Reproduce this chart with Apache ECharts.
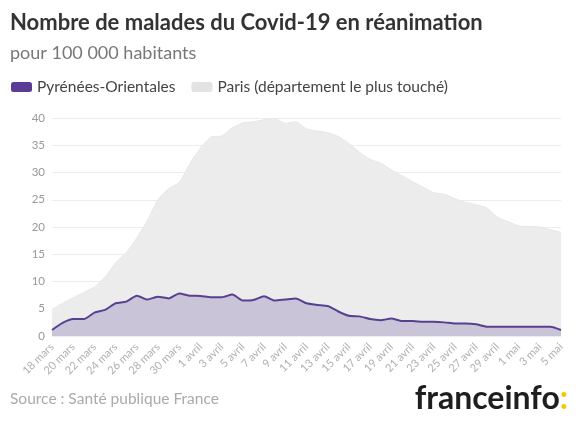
<!DOCTYPE html>
<html>
<head>
<meta charset="utf-8">
<script src="https://cdn.jsdelivr.net/npm/echarts@6/dist/echarts.min.js"></script>
<style>
html,body{margin:0;padding:0;background:#fff;}
#chart{width:578px;height:427px;}
</style>
</head>
<body>
<div id="chart"></div>
<script>
const categories = [
  '18 mars','19 mars','20 mars','21 mars','22 mars','23 mars','24 mars','25 mars','26 mars','27 mars','28 mars','29 mars','30 mars','31 mars',
  '1 avril','2 avril','3 avril','4 avril','5 avril','6 avril','7 avril','8 avril','9 avril','10 avril','11 avril','12 avril','13 avril','14 avril','15 avril',
  '16 avril','17 avril','18 avril','19 avril','20 avril','21 avril','22 avril','23 avril','24 avril','25 avril','26 avril','27 avril','28 avril','29 avril','30 avril',
  '1 mai','2 mai','3 mai','4 mai','5 mai'
];
const parisValues = [
  4.9, 6.0, 7.0, 8.0, 9.0, 10.8, 13.4, 15.3, 18.0, 21.2, 25.0, 27.0, 28.2, 31.6,
  34.5, 36.5, 36.7, 38.2, 39.1, 39.3, 39.7, 39.9, 39.0, 39.3, 38.0, 37.6, 37.3, 36.6, 35.3,
  33.7, 32.4, 31.7, 30.5, 29.4, 28.3, 27.3, 26.3, 26.0, 25.2, 24.5, 24.1, 23.5, 21.8, 21.0,
  20.2, 20.1, 20.0, 19.5, 19.0
];
const poValues = [
  1.1, 2.4, 3.1, 3.1, 4.3, 4.8, 6.0, 6.3, 7.4, 6.7, 7.2, 6.9, 7.8, 7.4,
  7.35, 7.1, 7.1, 7.6, 6.5, 6.6, 7.3, 6.5, 6.7, 6.9, 6.0, 5.7, 5.5, 4.5, 3.7,
  3.6, 3.1, 2.9, 3.2, 2.75, 2.75, 2.6, 2.6, 2.5, 2.3, 2.3, 2.15, 1.7, 1.7, 1.7,
  1.7, 1.7, 1.7, 1.7, 1.1
];
const seriesNames = ['Pyrénées-Orientales', 'Paris (département le plus touché)'];
const yTicks = [0, 5, 10, 15, 20, 25, 30, 35, 40];

const FONT = 'Lato, "Noto Sans", sans-serif';
const chart = echarts.init(document.getElementById('chart'));
chart.setOption({
  animation: false,
  backgroundColor: '#fff',
  textStyle: { fontFamily: FONT },
  title: {
    text: 'Nombre de malades du Covid-19 en réanimation',
    subtext: 'pour 100 000 habitants',
    left: 5, top: 7,
    itemGap: 10,
    textStyle: { fontFamily: FONT, fontSize: 22, fontWeight: 'bold', color: '#333' },
    subtextStyle: { fontFamily: FONT, fontSize: 18, color: '#777' }
  },
  legend: {
    data: [
      { name: seriesNames[0], itemStyle: { color: '#5b3c95' } },
      { name: seriesNames[1], itemStyle: { color: '#e3e3e3' } }
    ],
    left: 6, top: 74,
    icon: 'roundRect',
    itemWidth: 21, itemHeight: 10, itemGap: 16,
    textStyle: { fontFamily: FONT, fontSize: 15.5, color: '#444' }
  },
  grid: { left: 52, right: 17, top: 118, bottom: 91 },
  xAxis: {
    type: 'category',
    data: categories,
    boundaryGap: false,
    axisLine: { show: false },
    axisTick: { show: false },
    axisLabel: { interval: 1, rotate: 45, color: '#b0b0b0', fontSize: 11, margin: 9, fontFamily: FONT },
    splitLine: { show: false }
  },
  yAxis: {
    type: 'value',
    min: yTicks[0], max: yTicks[yTicks.length - 1], interval: 5,
    axisLine: { show: false },
    axisTick: { show: false },
    axisLabel: { color: '#999', fontSize: 11.5, margin: 7, fontFamily: FONT },
    splitLine: { lineStyle: { color: '#ececec', width: 1 } }
  },
  series: [
    {
      name: seriesNames[1],
      type: 'line',
      data: parisValues,
      symbol: 'none',
      smooth: 0.2,
      lineStyle: { width: 1, color: '#e6e6e6' },
      itemStyle: { color: '#e3e3e3' },
      areaStyle: { color: '#ececec', opacity: 1 },
      z: 1
    },
    {
      name: seriesNames[0],
      type: 'line',
      data: poValues,
      symbol: 'none',
      smooth: 0.2,
      lineStyle: { width: 2, color: '#57408f' },
      itemStyle: { color: '#5b3c95' },
      areaStyle: { color: '#c9c4d8', opacity: 1 },
      z: 2
    }
  ],
  graphic: [
    {
      type: 'text', left: 10, top: 391,
      style: { text: 'Source : Santé publique France', fill: '#aaa', fontSize: 15.5, fontFamily: FONT }
    },
    {
      type: 'text', right: 10, top: 383,
      style: {
        text: '{a|franceinfo}{b|:}',
        rich: {
          a: { fontSize: 32, fontWeight: 'bold', fill: '#1e1e1e', fontFamily: FONT },
          b: { fontSize: 32, fontWeight: 'bold', fill: '#f7c600', fontFamily: FONT }
        }
      }
    }
  ]
});
</script>
</body>
</html>
